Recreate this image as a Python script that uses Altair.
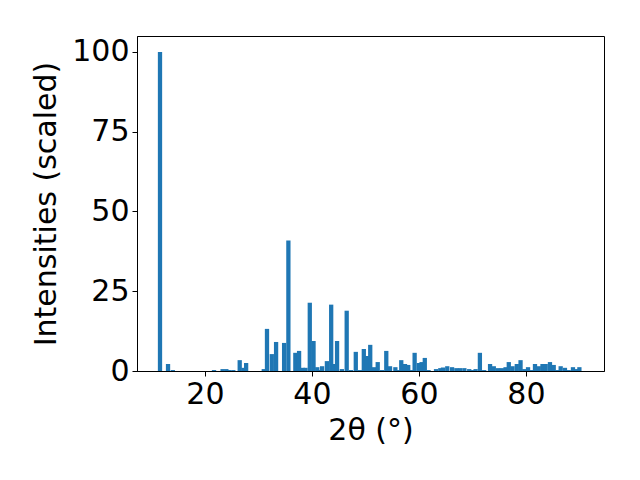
import altair as alt
import pandas as pd

two_theta = [11.6, 13.1, 14.0, 21.7, 23.3, 24.0, 24.5, 25.3, 26.5, 27.2, 27.7,
             31.0, 31.6, 32.5, 33.3, 34.8, 35.6, 36.9, 37.6, 38.3, 38.8, 39.6, 40.3, 41.0,
             41.4, 41.9, 42.8, 43.6, 44.1, 44.7, 45.6, 46.5, 47.3, 48.2, 49.0, 49.7, 50.3,
             50.9, 51.6, 52.3, 53.1, 53.9, 54.6, 55.6, 56.2, 56.7, 57.4, 58.0, 58.6, 59.2,
             60.0, 60.5, 61.1, 61.8, 63.2, 64.0, 64.5, 65.3, 66.2, 67.0, 67.7, 68.5, 69.4,
             70.1, 70.6, 71.4, 72.2, 73.3, 74.0, 74.8, 75.5, 76.2, 76.8, 77.5, 78.3, 79.0,
             79.7, 80.4, 81.1, 81.7, 82.4, 83.1, 83.7, 84.5, 85.2, 85.9, 86.5, 87.3, 88.0,
             88.8, 89.4, 90.0]
intensity = [100.0, 2.2, 0.3, 0.3, 0.6, 0.6, 0.3, 0.3, 3.4, 1.0, 2.5,
             0.6, 13.2, 5.3, 9.1, 8.8, 40.9, 5.7, 6.3, 1.0, 1.0, 21.4, 9.4, 1.2,
             0.3, 1.5, 3.1, 20.8, 2.2, 9.4, 0.6, 18.9, 0.3, 6.0, 0.3, 6.9, 4.7,
             8.2, 1.2, 2.8, 0.3, 6.3, 1.5, 1.2, 0.3, 3.4, 2.2, 1.9, 0.3, 5.7,
             2.5, 2.8, 4.1, 0.3, 0.6, 0.9, 1.1, 1.5, 1.2, 0.9, 0.9, 0.9, 0.6,
             0.3, 0.6, 5.7, 0.3, 2.2, 1.5, 0.9, 0.9, 1.2, 2.8, 1.5, 2.2, 3.4,
             0.6, 1.2, 0.3, 2.2, 1.5, 2.2, 2.2, 2.8, 1.9, 0.3, 1.5, 1.0, 0.3,
             1.2, 0.6, 1.2]
bar_width = 0.8

df = pd.DataFrame({"tt": two_theta, "I": intensity})

font = "DejaVu Sans"
fs = 30
common = dict(grid=False, tickColor="black", domainColor="black", tickSize=5,
              labelFontSize=fs, titleFontSize=fs, labelFont=font, titleFont=font,
              labelColor="black", titleColor="black", titleFontWeight="normal",
              labelPadding=3)
chart = alt.Chart(df).transform_calculate(
    x0=f"datum.tt - {bar_width/2}", x1=f"datum.tt + {bar_width/2}"
).mark_rect(color="#1f77b4").encode(
    x=alt.X("x0:Q", scale=alt.Scale(domain=[7.3, 94.6], nice=False, zero=False),
            axis=alt.Axis(values=[20, 40, 60, 80], title="2θ (°)", titlePadding=6, **common)),
    x2="x1:Q",
    y=alt.Y("I:Q", scale=alt.Scale(domain=[0, 105], nice=False),
            axis=alt.Axis(values=[0, 25, 50, 75, 100], title="Intensities (scaled)",
                          titlePadding=10, **common)),
    y2=alt.datum(0),
).properties(
    width=467, height=335,
    autosize=alt.AutoSizeParams(type="none"),
    padding={"left": 129, "top": 28, "right": 20, "bottom": 100},
).configure(background="white").configure_view(stroke="black", strokeWidth=1, strokeOpacity=1)

chart.save("out.html", embed_options={"renderer": "svg", "actions": False})
